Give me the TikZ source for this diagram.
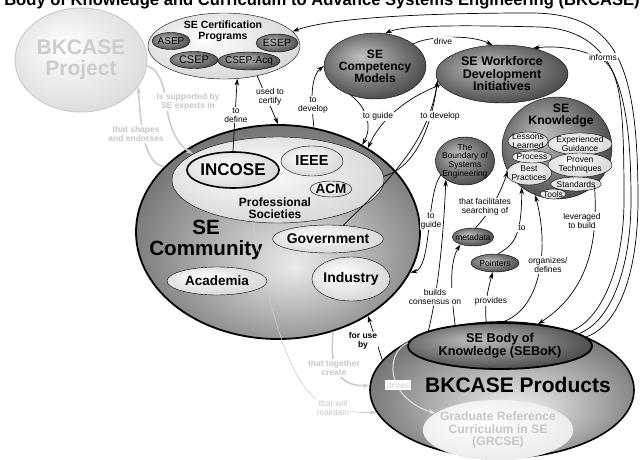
\documentclass[tikz,border=0pt]{standalone}
\usepackage{fontspec}
\setmainfont{Liberation Sans}
\usetikzlibrary{arrows.meta,shapes.geometric}
\newcommand{\fsz}[2]{\fontsize{#1}{#2}\selectfont}
\colorlet{blobin}{white}
\colorlet{blobout}{gray}
\pgfdeclareradialshading[blobin,blobout]{gelshade}{\pgfpoint{-7bp}{7bp}}{color(0bp)=(blobin); color(30bp)=(blobout); color(50bp)=(blobout)}
\pgfdeclareradialshading[blobin,blobout]{bowlshade}{\pgfpoint{3bp}{-8bp}}{color(0bp)=(blobin); color(32bp)=(blobout); color(50bp)=(blobout)}
\tikzset{
  blob/.style = {ellipse, draw=black, inner sep=0pt, align=center, text centered},
  shadeit/.style 2 args = {shading=gelshade, /utils/exec={\colorlet{blobin}{#1}\colorlet{blobout}{#2}}},
  bowlit/.style 2 args = {shading=bowlshade, /utils/exec={\colorlet{blobin}{#1}\colorlet{blobout}{#2}}},
  darkblob/.style = {blob, shadeit={black!25}{black!72}},% gray gel
  paleblob/.style = {blob, shadeit={white}{black!16}},% white gel
  title/.style = {align=center, font=\bfseries\fsz{12}{12}},
  lbl/.style = {fill=white, inner sep=1pt, align=center, font=\fsz{8.5}{9}},
  ghostlbl/.style = {lbl, text=black!22, font=\bfseries\fsz{8.5}{9}},
  link/.style = {draw=black, line width=0.7pt},
  ghost/.style = {draw=black!20, line width=1.6pt}
}
\begin{document}
\begin{tikzpicture}[x=1pt, y=-1pt, >={Stealth[length=7pt,width=4.5pt]}]
\useasboundingbox (0,0) rectangle (641,460);
\clip (0,0) rectangle (641,460);

\node[anchor=base, font=\bfseries\fsz{16.6}{18}] (head) at (322,6)
  {Body of Knowledge and Curriculum to Advance Systems Engineering (BKCASE)};

% project
\node[blob, draw=black!20, line width=1pt, shadeit={white}{black!14}, minimum width=132,
  minimum height=104, text=black!20, font=\bfseries\fsz{21}{21}] (proj) at (81,60) {BKCASE\\Project};

% certification
\node[paleblob, minimum width=152, minimum height=66] (cert) at (224,46) {};
\node[title, font=\bfseries\fsz{10.5}{11}] (certtitle) at (223,31) {SE Certification\\Programs};
\node[darkblob, inner sep=-2pt, minimum width=38, minimum height=17, font=\fsz{10}{10}] (asep) at (171,41) {ASEP};
\node[darkblob, inner sep=-2pt, minimum width=42, minimum height=18, font=\fsz{10.5}{10}] (esep) at (277,43) {ESEP};
\node[darkblob, inner sep=-2pt, minimum width=48, minimum height=17, font=\fsz{11}{11}] (csep) at (194,60) {CSEP};
\node[darkblob, inner sep=-2pt, minimum width=62, minimum height=18, font=\fsz{10}{10}] (csepacq) at (249,61) {CSEP-Acq};

% competency and workforce
\node[darkblob, minimum width=100, minimum height=66, font=\bfseries\fsz{12}{12}] (comp) at (375,66) {SE\\Competency\\Models};
\node[darkblob, minimum width=132, minimum height=58, font=\bfseries\fsz{12.5}{12.5}] (wfdi) at (502,74) {SE Workforce\\Development\\Initiatives};

% knowledge
\node[darkblob, minimum width=110, minimum height=102] (know) at (557,148) {};
\node[title, font=\bfseries\fsz{12.2}{12}] (knowtitle) at (561,116) {SE\\Knowledge};
\tikzset{item/.style = {paleblob, inner sep=-1.5pt, font=\fsz{8.5}{8.5}}}
\node[item, minimum width=40, minimum height=18] (lessons) at (528,141) {Lessons\\Learned};
\node[item, minimum width=64, minimum height=22] (exper) at (580,144) {Experienced\\Guidance};
\node[item, minimum width=42, minimum height=24] (best) at (529,173) {Best\\Practices};
\node[item, minimum width=40, minimum height=12] (process) at (532,157) {Process};
\node[item, minimum width=64, minimum height=24] (proven) at (580,165) {Proven\\Techniques};
\node[item, minimum width=48, minimum height=14] (standards) at (576,184) {Standards};
\node[item, minimum width=26, minimum height=10] (tools) at (553,194) {Tools};

\node[darkblob, inner sep=-2pt, minimum width=56, minimum height=48, font=\fsz{8.5}{8.7}] (bound) at (465,161) {The\\Boundary of\\Systems\\Engineering};
\node[darkblob, inner sep=-3pt, minimum width=40, minimum height=18, font=\fsz{8.5}{9}] (meta) at (473,237) {metadata};
\node[darkblob, minimum width=48, minimum height=18, font=\fsz{8.5}{9}] (point) at (495,263) {Pointers};

% community
\node[blob, line width=1.8pt, bowlit={black!8}{black!60}, minimum width=284, minimum height=214] (comm) at (278,232) {};
\node[paleblob, minimum width=212, minimum height=86] (prof) at (278,180) {};
\node[title] (proftitle) at (275,208) {Professional\\Societies};
\node[paleblob, line width=1.6pt, minimum width=90, minimum height=36, font=\bfseries\fsz{17}{17}] (incose) at (233,170) {INCOSE};
\node[paleblob, minimum width=62, minimum height=30, font=\bfseries\fsz{14.5}{14}] (ieee) at (312,161) {IEEE};
\node[paleblob, inner sep=-2pt, minimum width=42, minimum height=16, font=\bfseries\fsz{13.5}{13}] (acm) at (331,189) {ACM};
\node[paleblob, inner sep=-2pt, minimum width=108, minimum height=28, font=\bfseries\fsz{14}{14}] (gov) at (328,239) {Government};
\node[paleblob, minimum width=74, minimum height=44, font=\bfseries\fsz{14}{14}] (ind) at (351,279) {Industry};
\node[paleblob, minimum width=100, minimum height=28, font=\bfseries\fsz{13.5}{13}] (acad) at (217,281) {Academia};
\node[title, font=\bfseries\fsz{20.6}{21}] (commtitle) at (206,240) {SE\\Community};

% products
\node[blob, line width=1.6pt, bowlit={black!5}{black!62}, minimum width=264, minimum height=136] (prod) at (502,390) {};
\node[darkblob, line width=1.8pt, inner sep=-1pt, minimum width=184, minimum height=46, font=\bfseries\fsz{12.7}{13}] (seb) at (500,346) {SE Body of\\Knowledge (SEBoK)};
\node[blob, draw=black!8, shadeit={white}{black!8}, inner sep=-5pt, minimum width=144, minimum height=60,
  text=black!22, font=\bfseries\fsz{12.2}{12.5}] (grcse) at (498,430) {Graduate Reference\\Curriculum in SE\\(GRCSE)};
\node[title, font=\bfseries\fsz{21}{21}] (prodtitle) at (518,385) {BKCASE Products};

% links
\draw[link,->] (incose.north) -- (cert.-68);
\draw[link,->] (cert.-42) -- (comm.90);
\draw[link,->] (comm.71) .. controls (310,95) and (312,75) .. (comp.180);
\draw[link,->] (comp.30) .. controls (428,36) and (470,34) .. (wfdi.108);
\draw[link,->] (comp.230) .. controls (368,108) and (372,128) .. (comm.46);
\draw[link,->] (wfdi.190) .. controls (400,100) and (378,125) .. (comm.43);
\draw[link,->] (prof.2) .. controls (412,168) and (430,135) .. (wfdi.186);
\draw[link,->] (gov.42) .. controls (395,175) and (428,140) .. (wfdi.186);
\draw[link,->] (bound.210) .. controls (426,195) and (432,268) .. (comm.-17);
\draw[link,->] (seb.168) .. controls (436,300) and (443,250) .. (bound.224);
\draw[link,->] (seb.155) .. controls (452,300) and (448,265) .. (meta.210);
\draw[link,->] (seb.120) .. controls (484,305) and (488,290) .. (point.-105);
\draw[link,->] (meta.75) .. controls (488,215) and (500,195) .. (know.205);
\draw[link,->] (point.70) .. controls (512,245) and (522,240) .. (know.228);
\draw[link,->] (seb.85) .. controls (540,310) and (550,250) .. (know.245);
\draw[link,->] (know.-45) .. controls (598,240) and (590,290) .. (seb.30);
\draw[link,->] (prod.166) -- (comm.-43);
% informs
\draw[link,->] (seb.12) .. controls (600,320) and (624,270) .. (624,200)
  .. controls (624,120) and (622,72) .. (603,60) .. controls (585,50) and (560,45) .. (wfdi.40);
\draw[link,->] (seb.9) .. controls (610,322) and (631,270) .. (631,200)
  .. controls (631,90) and (615,30) .. (540,27) .. controls (460,25) and (405,25) .. (comp.73);
\draw[link,->] (seb.6) .. controls (620,325) and (638,270) .. (638,200)
  .. controls (638,60) and (615,13) .. (530,13) .. controls (420,13) and (330,18) .. (cert.12);
% faded links
\draw[ghost,->] (comm.150) .. controls (145,165) and (141,130) .. (proj.-25);
\draw[ghost,->] (proj.-5) .. controls (165,72) and (165,100) .. (168,115)
  .. controls (171,130) and (178,145) .. (prof.163);
\draw[ghost,->] (comm.-61) .. controls (330,360) and (334,387) .. (prod.178);
\draw[ghost, line width=0.6pt, ->] (prof.239) .. controls (272,320) and (292,398) .. (333,408)
  .. controls (350,412) and (360,413) .. (prod.190);
\draw[ghost, draw=black!10, line width=1pt, ->] (seb.178) .. controls (385,352) and (385,398) .. (grcse.165);

% labels
\node[lbl] (ldefine) at (236,115) {to\\define};
\node[lbl] (lcertify) at (270,97) {used to\\certify};
\node[lbl] (ldevelopa) at (313,105) {to\\develop};
\node[lbl] (ldrive) at (443,41) {drive};
\node[lbl] (lguidea) at (378,116) {to guide};
\node[lbl] (ldevelopb) at (440,116) {to develop};
\node[lbl] (linforms) at (603,57) {informs};
\node[lbl] (lguideb) at (431,221) {to\\guide};
\node[lbl] (lsearch) at (485,207) {that facilitates\\searching of};
\node[lbl] (lto) at (522,228) {to};
\node[lbl] (lorganize) at (548,265) {organizes/\\defines};
\node[lbl] (lleverage) at (582,221) {leveraged\\to build};
\node[lbl] (lconsensus) at (435,297) {builds\\consensus on};
\node[lbl] (lprovides) at (491,301) {provides};
\node[lbl, font=\bfseries\fsz{8.5}{9}] (luse) at (363,341) {for use\\by};
\node[ghostlbl] (lsupport) at (188,102) {is supported by\\SE experts in};
\node[ghostlbl] (lshape) at (136,134) {that shapes\\and endorses};
\node[ghostlbl] (lcreate) at (334,368) {that together\\create};
\node[lbl, text=black!22] (lmaintain) at (333,408) {that will\\maintain};
\node[lbl, text=black!20, inner sep=2pt] (ldrives) at (398,385) {drives};
\end{tikzpicture}
\end{document}
